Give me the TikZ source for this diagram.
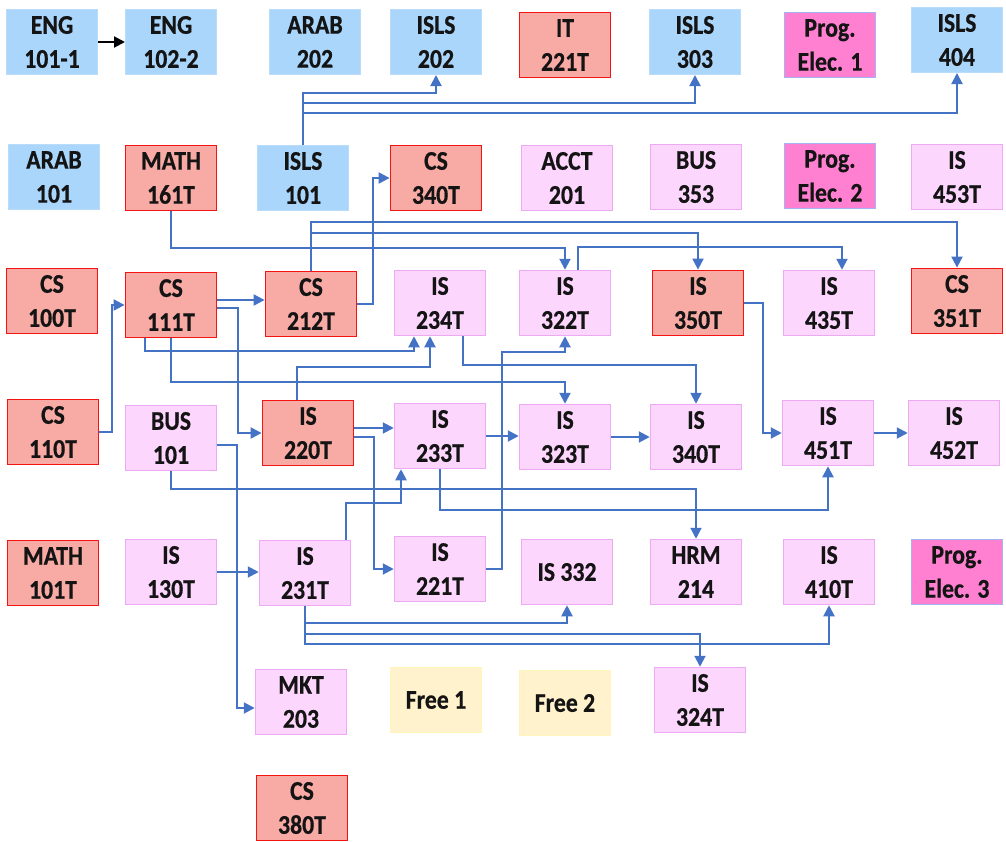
\documentclass[tikz,border=0pt]{standalone}
\usepackage{fontspec}
\setmainfont{Carlito}[FakeStretch=0.88, BoldFeatures={FakeStretch=0.88, FakeBold=0.6}]
\usetikzlibrary{arrows.meta}
\definecolor{lblue}{RGB}{170,214,252}
\definecolor{lbluebd}{RGB}{185,220,250}
\definecolor{rfill}{RGB}{248,170,165}
\definecolor{rbd}{RGB}{245,20,20}
\definecolor{pfill}{RGB}{252,214,252}
\definecolor{pbd}{RGB}{236,170,242}
\definecolor{hfill}{RGB}{255,128,208}
\definecolor{hbd}{RGB}{165,178,240}
\definecolor{yfill}{RGB}{255,242,204}
\definecolor{ybd}{RGB}{255,244,185}
\definecolor{linkc}{RGB}{68,114,196}
\definecolor{txt}{RGB}{20,20,20}
\begin{document}
\begin{tikzpicture}[x=1pt,y=-1pt,
 box/.style={rectangle, minimum width=91pt, minimum height=65pt, inner sep=0pt, align=center, text=txt, font=\fontsize{27}{34}\selectfont\bfseries},
 bluebox/.style={box, fill=lblue, draw=lbluebd, line width=1pt},
 redbox/.style={box, fill=rfill, draw=rbd, line width=1.8pt},
 pinkbox/.style={box, fill=pfill, draw=pbd, line width=1.5pt},
 hotbox/.style={box, fill=hfill, draw=hbd, line width=1.5pt},
 yelbox/.style={box, fill=yfill, draw=ybd, line width=1.5pt},
 conn/.style={draw=linkc, line width=2pt, -{Triangle[length=11pt,width=11pt]}},
 blk/.style={draw=black, line width=2pt, -{Triangle[length=11pt,width=11pt]}}
]
\useasboundingbox (0,0) rectangle (1006,841);
\clip (0,0) rectangle (1006,841);
% Row 1
\node[bluebox] (eng1) at (52,42) {ENG\\101-1};
\node[bluebox] (eng2) at (171,42) {ENG\\102-2};
\node[bluebox] (arab202) at (315,42) {ARAB\\202};
\node[bluebox] (isls202) at (436,42) {ISLS\\202};
\node[redbox] (it221) at (565,45) {IT\\221T};
\node[bluebox] (isls303) at (695,42) {ISLS\\303};
\node[hotbox] (pe1) at (830,45) {Prog.\\Elec. 1};
\node[bluebox] (isls404) at (957,40) {ISLS\\404};
% Row 2
\node[bluebox] (arab101) at (54,177) {ARAB\\101};
\node[redbox] (math161) at (171,178) {MATH\\161T};
\node[bluebox] (isls101) at (303,178) {ISLS\\101};
\node[redbox] (cs340) at (436,178) {CS\\340T};
\node[pinkbox] (acct201) at (567,178) {ACCT\\201};
\node[pinkbox] (bus353) at (696,177) {BUS\\353};
\node[hotbox] (pe2) at (830,176) {Prog.\\Elec. 2};
\node[pinkbox] (is453) at (957,177) {IS\\453T};
% Row 3
\node[redbox] (cs100) at (52,301) {CS\\100T};
\node[redbox] (cs111) at (171,305) {CS\\111T};
\node[redbox] (cs212) at (311,304) {CS\\212T};
\node[pinkbox] (is234) at (440,303) {IS\\234T};
\node[pinkbox] (is322) at (565,303) {IS\\322T};
\node[redbox] (is350) at (698,303) {IS\\350T};
\node[pinkbox] (is435) at (829,303) {IS\\435T};
\node[redbox] (cs351) at (957,301) {CS\\351T};
% Row 4
\node[redbox] (cs110) at (53,432) {CS\\110T};
\node[pinkbox] (bus101) at (171,438) {BUS\\101};
\node[redbox] (is220) at (308,433) {IS\\220T};
\node[pinkbox] (is233) at (440,436) {IS\\233T};
\node[pinkbox] (is323) at (565,437) {IS\\323T};
\node[pinkbox] (is340) at (696,437) {IS\\340T};
\node[pinkbox] (is451) at (828,433) {IS\\451T};
\node[pinkbox] (is452) at (954,433) {IS\\452T};
% Row 5
\node[redbox] (math101) at (53,573) {MATH\\101T};
\node[pinkbox] (is130) at (171,572) {IS\\130T};
\node[pinkbox] (is231) at (305,573) {IS\\231T};
\node[pinkbox] (is221) at (440,569) {IS\\221T};
\node[pinkbox] (is332) at (567,572) {IS 332};
\node[pinkbox] (hrm214) at (696,572) {HRM\\214};
\node[pinkbox] (is410) at (829,572) {IS\\410T};
\node[hotbox] (pe3) at (957,572) {Prog.\\Elec. 3};
% Row 6
\node[pinkbox] (mkt203) at (301,702) {MKT\\203};
\node[yelbox] (free1) at (436,700) {Free 1};
\node[yelbox] (free2) at (565,703) {Free 2};
\node[pinkbox] (is324) at (700,700) {IS\\324T};
% Row 7
\node[redbox] (cs380) at (302,808) {CS\\380T};
% helper coordinates
\coordinate (s322) at ([xshift=13pt]is322.north);
\coordinate (t435) at ([xshift=13pt]is435.north);
\coordinate (s111a) at ([xshift=-26pt]cs111.south);
\coordinate (t234a) at ([xshift=-26pt]is234.south);
\coordinate (s234) at ([xshift=23pt]is234.south);
\coordinate (s220) at ([xshift=-11pt]is220.north);
\coordinate (t234b) at ([xshift=-10pt]is234.south);
\coordinate (s231) at ([xshift=41pt]is231.north);
\coordinate (t233) at ([xshift=-39pt]is233.south);
% connectors
\draw[blk] (eng1) -- (eng2);
\draw[conn] (isls101.north) |- (isls202.south |- 0,93) -- (isls202.south);
\draw[conn] (isls101.north) |- (isls303.south |- 0,103) -- (isls303.south);
\draw[conn] (isls101.north) |- (isls404.south |- 0,113) -- (isls404.south);
\draw[conn] (math161.south) |- (is322.north |- 0,248) -- (is322.north);
\draw[conn] (cs212.north) |- (cs351.north |- 0,222) -- (cs351.north);
\draw[conn] (cs212.north) |- (is350.north |- 0,233) -- (is350.north);
\draw[conn] (s322) |- (t435 |- 0,247) -- (t435);
\draw[conn] (cs212.east) -- ++(16,0) |- (cs340.west);
\draw[conn] (cs111.east |- 0,300) -- (cs212.west |- 0,300);
\draw[conn] (cs110.east) -- ++(13,0) |- (cs111.west);
\draw[conn] (cs111.east |- 0,308) -- ++(21,0) |- (is220.west);
\draw[conn] (s111a) |- (t234a |- 0,351) -- (t234a);
\draw[conn] (cs111.south) |- (is323.north |- 0,382) -- (is323.north);
\draw[conn] (s234) |- (is340.north |- 0,365) -- (is340.north);
\draw[conn] (s220) |- (t234b |- 0,367) -- (t234b);
\draw[conn] (is220.east |- 0,428) -- (is233.west |- 0,428);
\draw[conn] (is220.east |- 0,437) -- ++(20,0) |- (is221.west);
\draw[conn] (bus101.east |- 0,445) -- ++(20,0) |- (mkt203.west |- 0,708);
\draw[conn] (bus101.south) |- (hrm214.north |- 0,489) -- (hrm214.north);
\draw[conn] (is233.south) |- (is451.south |- 0,510) -- (is451.south);
\draw[conn] (s231) |- (t233 |- 0,503) -- (t233);
\draw[conn] (is130.east) -- (is231.west |- is130.east);
\draw[conn] (is221.east) -- ++(16,0) |- (is322.south |- 0,352) -- (is322.south);
\draw[conn] (is233.east) -- (is323.west |- is233.east);
\draw[conn] (is323.east) -- (is340.west);
\draw[conn] (is350.east) -- ++(19,0) |- (is451.west);
\draw[conn] (is451.east) -- (is452.west);
\draw[conn] (is231.south) |- (is332.south |- 0,623) -- (is332.south);
\draw[conn] (is231.south) |- (is324.north |- 0,634) -- (is324.north);
\draw[conn] (is231.south) |- (is410.south |- 0,644) -- (is410.south);
\end{tikzpicture}
\end{document}
